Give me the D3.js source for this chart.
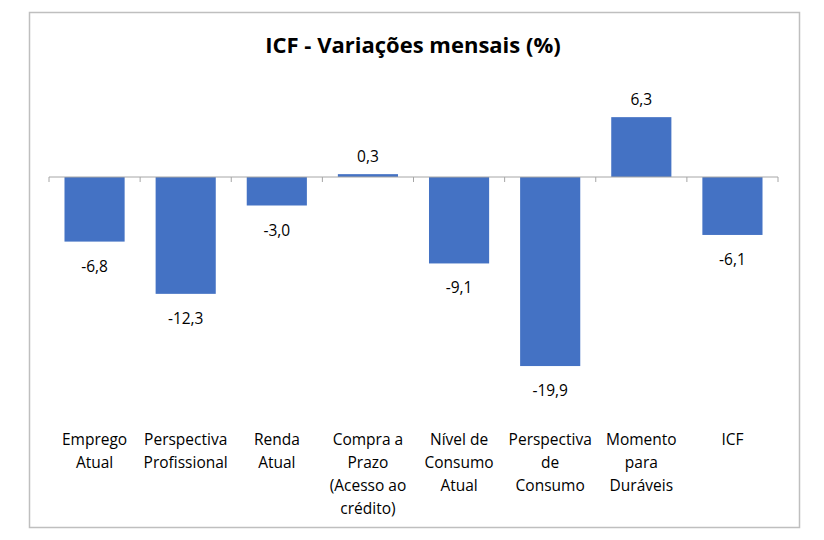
<!DOCTYPE html>
<html>
<head>
<meta charset="utf-8">
<script src="https://cdn.jsdelivr.net/npm/d3@7"></script>
<style>
  body { margin: 0; background: #fff; }
  text { font-family: "Open Sans", Lato, sans-serif; fill: #000; }
</style>
</head>
<body>
<svg id="chart" width="824" height="540"></svg>
<script>
const categories = [
    ["Emprego", "Atual"],
    ["Perspectiva", "Profissional"],
    ["Renda", "Atual"],
    ["Compra a", "Prazo", "(Acesso ao", "crédito)"],
    ["Nível de", "Consumo", "Atual"],
    ["Perspectiva", "de", "Consumo"],
    ["Momento", "para", "Duráveis"],
    ["ICF"]
]
const values = [-6.8, -12.3, -3.0, 0.3, -9.1, -19.9, 6.3, -6.1]
const title = "ICF - Variações mensais (%)"

// vírgula decimal e hífen simples no sinal
const fmt = v => d3.format(".1f")(v).replace(".", ",").replace("\u2212", "-")

const svg = d3.select("#chart")

// moldura
svg.append("rect")
    .attr("x", 29.5).attr("y", 12.5)
    .attr("width", 770).attr("height", 515)
    .attr("fill", "#fff")
    .attr("stroke", "#bfbfbf")
    .attr("stroke-width", 1.5)

svg.append("text")
    .attr("x", 413).attr("y", 53)
    .attr("text-anchor", "middle")
    .style("font-size", "22px")
    .style("font-weight", "bold")
    .text(title)

const x = d3.scaleBand()
    .domain(d3.range(categories.length))
    .range([49, 778])
    .paddingInner(0.34)
    .paddingOuter(0.17)

const y = d3.scaleLinear()
    .domain([-20, 10])
    .range([367, 82])

svg.selectAll(".bar")
    .data(values)
    .join("rect")
    .attr("class", "bar")
    .attr("x", (d, i) => x(i))
    .attr("width", x.bandwidth())
    .attr("y", d => y(Math.max(0, d)))
    .attr("height", d => Math.abs(y(d) - y(0)))
    .attr("fill", "#4472c4")

// eixo zero com marcas entre categorias
const step = x.step()
const zeroY = y(0)
svg.append("line")
    .attr("x1", 49).attr("x2", 778)
    .attr("y1", zeroY).attr("y2", zeroY)
    .attr("stroke", "#a6a6a6")
    .attr("stroke-width", 1)
svg.selectAll(".tick")
    .data(d3.range(categories.length + 1))
    .join("line")
    .attr("class", "tick")
    .attr("x1", i => 49 + i * step).attr("x2", i => 49 + i * step)
    .attr("y1", zeroY).attr("y2", zeroY + 5)
    .attr("stroke", "#a6a6a6")

svg.selectAll(".val")
    .data(values)
    .join("text")
    .attr("class", "val")
    .attr("x", (d, i) => x(i) + x.bandwidth() / 2)
    .attr("y", d => d >= 0 ? y(d) - 12 : y(d) + 30)
    .attr("text-anchor", "middle")
    .style("font-size", "15.5px")
    .text(d => fmt(d))

const labels = svg.selectAll(".cat")
    .data(categories)
    .join("text")
    .attr("class", "cat")
    .attr("x", (d, i) => x(i) + x.bandwidth() / 2)
    .attr("y", 445)
    .attr("text-anchor", "middle")
    .style("font-size", "15.5px")

labels.selectAll("tspan")
    .data((d, i) => d.map(s => ({ s, i })))
    .join("tspan")
    .attr("x", d => x(d.i) + x.bandwidth() / 2)
    .attr("dy", (d, j) => j === 0 ? 0 : 23)
    .text(d => d.s)
</script>
</body>
</html>
